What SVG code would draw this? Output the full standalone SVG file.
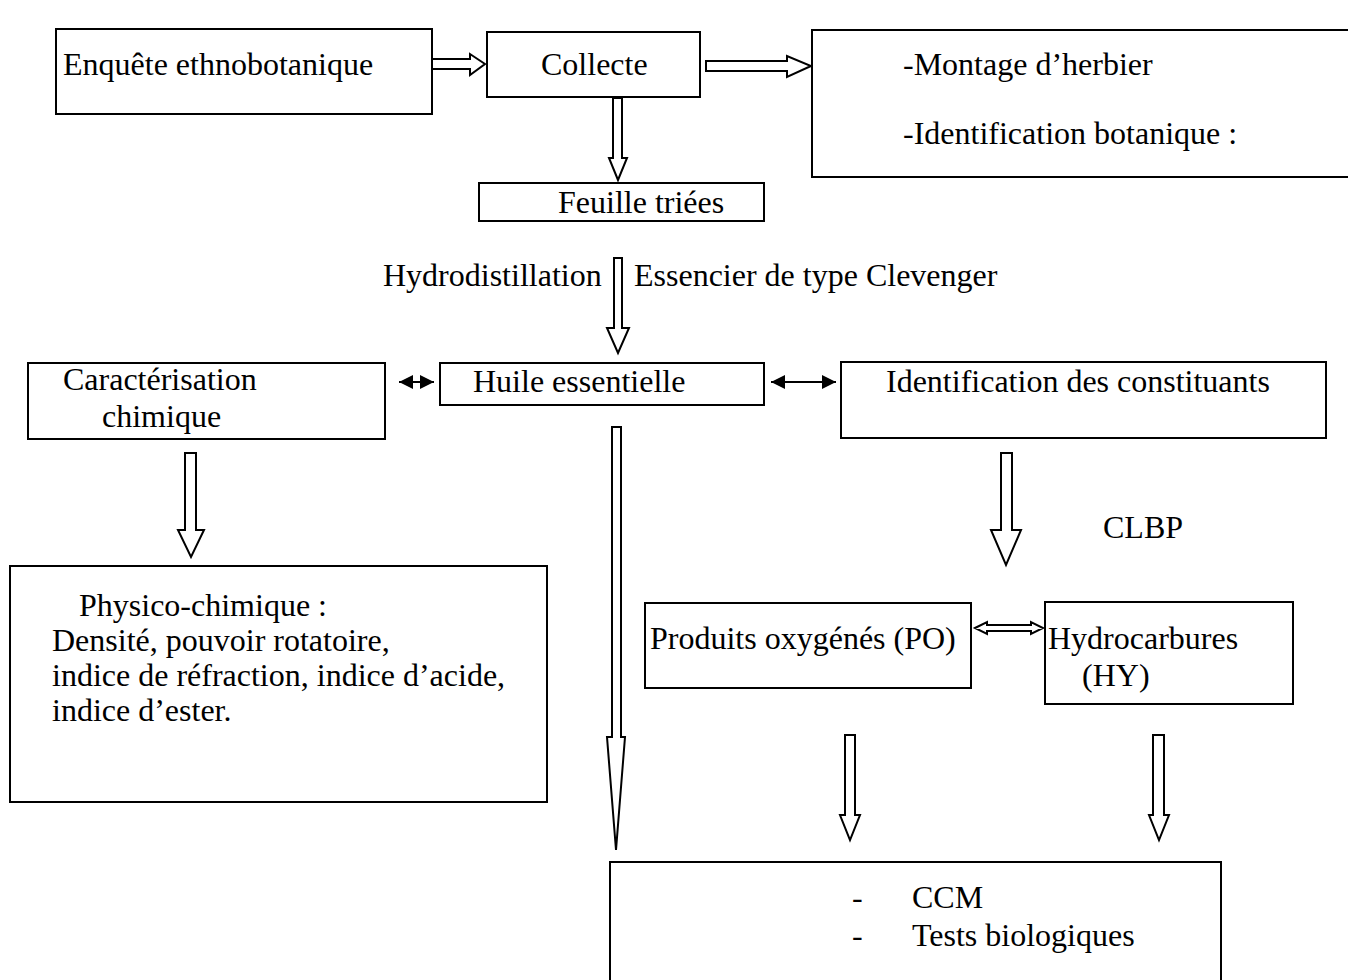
<svg xmlns="http://www.w3.org/2000/svg" width="1348" height="980" viewBox="0 0 1348 980">
<style>
.box{fill:#fff;stroke:#000;stroke-width:2}
.t{font-family:"Liberation Serif","Times New Roman",serif;font-size:32px;fill:#000}
.ba{fill:#fff;stroke:#000;stroke-width:2;stroke-linejoin:miter}
.da{stroke:#000;stroke-width:2;fill:none}
</style>
<defs>
<marker id="ah" viewBox="0 0 10 10" refX="10" refY="5" markerWidth="7" markerHeight="7" markerUnits="strokeWidth" orient="auto-start-reverse">
<path d="M0,0 L10,5 L0,10 z" fill="#000"/>
</marker>
</defs>
<rect width="1348" height="980" fill="#fff"/>
<g id="connectors">
<polygon class="ba" points="432,59 470,59 470,54 485,64 470,75 470,69 432,69"/>
<polygon class="ba" points="706,61 787,61 787,56 811,66 787,77 787,71 706,71"/>
<polygon class="ba" points="613,98 613,158 609,158 618,180 627,158 622,158 622,98"/>
<polygon class="ba" points="614,258 614,328 607,328 618,353 629,328 622,328 622,258"/>
<polygon class="ba" points="612,427 612,737 607,737 616,850 625,737 621,737 621,427"/>
<polygon class="ba" points="185,453 185,530 178,530 191,557 204,530 196,530 196,453"/>
<polygon class="ba" points="1001,453 1001,530 991,530 1006,565 1021,530 1012,530 1012,453"/>
<polygon class="ba" points="845,735 845,815 840,815 850,840 860,815 855,815 855,735"/>
<polygon class="ba" points="1153,735 1153,815 1149,815 1159,840 1169,815 1164,815 1164,735"/>
<polygon class="ba" points="975,628 987,622 987,625 1031,625 1031,622 1043,628 1031,634 1031,631 987,631 987,634"/>
<line class="da" x1="399" y1="382" x2="434" y2="382" marker-start="url(#ah)" marker-end="url(#ah)"/>
<line class="da" x1="771" y1="382" x2="836" y2="382" marker-start="url(#ah)" marker-end="url(#ah)"/>
</g>
<g id="n-enquete">
<rect class="box" x="56" y="29" width="376" height="85"/>
<text class="t" x="63" y="75">Enquête ethnobotanique</text>
</g>
<g id="n-collecte">
<rect class="box" x="487" y="32" width="213" height="65"/>
<text class="t" x="541" y="75">Collecte</text>
</g>
<g id="n-montage">
<rect class="box" x="812" y="30" width="540" height="147"/>
<text class="t" x="903" y="75">-Montage d’herbier</text>
<text class="t" x="903" y="144">-Identification botanique :</text>
</g>
<g id="n-feuille">
<rect class="box" x="479" y="183" width="285" height="38"/>
<text class="t" x="558" y="213">Feuille triées</text>
</g>
<g id="labels">
<text class="t" x="383" y="286">Hydrodistillation</text>
<text class="t" x="634" y="286">Essencier de type Clevenger</text>
<text class="t" x="1103" y="538">CLBP</text>
</g>
<g id="n-caracterisation">
<rect class="box" x="28" y="363" width="357" height="76"/>
<text class="t" x="63" y="390">Caractérisation</text>
<text class="t" x="102" y="427">chimique</text>
</g>
<g id="n-huile">
<rect class="box" x="440" y="363" width="324" height="42"/>
<text class="t" x="473" y="392">Huile essentielle</text>
</g>
<g id="n-identification">
<rect class="box" x="841" y="362" width="485" height="76"/>
<text class="t" x="886" y="392">Identification des constituants</text>
</g>
<g id="n-physico">
<rect class="box" x="10" y="566" width="537" height="236"/>
<text class="t" x="79" y="616">Physico-chimique :</text>
<text class="t" x="52" y="651">Densité, pouvoir rotatoire,</text>
<text class="t" x="52" y="686">indice de réfraction, indice d’acide,</text>
<text class="t" x="52" y="721">indice d’ester.</text>
</g>
<g id="n-po">
<rect class="box" x="645" y="603" width="326" height="85"/>
<text class="t" x="650" y="649">Produits oxygénés (PO)</text>
</g>
<g id="n-hy">
<rect class="box" x="1045" y="602" width="248" height="102"/>
<text class="t" x="1048" y="649">Hydrocarbures</text>
<text class="t" x="1082" y="686">(HY)</text>
</g>
<g id="n-tests">
<rect class="box" x="610" y="862" width="611" height="140"/>
<text class="t" x="852" y="908">-</text>
<text class="t" x="912" y="908">CCM</text>
<text class="t" x="852" y="946">-</text>
<text class="t" x="912" y="946">Tests biologiques</text>
</g>
</svg>
